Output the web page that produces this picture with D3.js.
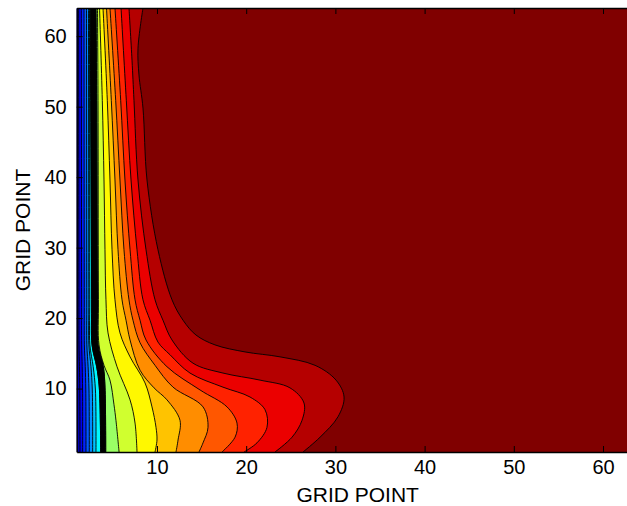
<!DOCTYPE html>
<html>
<head>
<meta charset="utf-8">
<script src="https://cdn.jsdelivr.net/npm/d3@7"></script>
<style>
  html, body { margin: 0; padding: 0; background: #fff; overflow: hidden; }
  svg { display: block; }
  text { font-family: "Liberation Sans", Arial, Helvetica, sans-serif; fill: #000; }
</style>
</head>
<body>
<svg id="chart" width="627" height="506"></svg>
<script>
// Grid extent (grid points along both axes) and tick values
const gridExtent = [1, 64];
const xTicks = [10, 20, 30, 40, 50, 60];
const yTicks = [10, 20, 30, 40, 50, 60];

// Contour levels; the band above level k is coloured by k on the jet scale
const levels = [1, 2, 3, 4, 5, 6, 7, 8, 9, 10, 11, 12, 13, 14, 15, 16, 17, 18, 19];

// Isoline traces as [grid x, grid y], running from the top row down to the bottom row
const iso02 = [[1.22, 64], [1.25, 22.6], [1.26, 16.2], [1.31, 13.1], [1.35, 9.8], [1.37, 1]];
const iso03 = [[1.52, 64], [1.55, 22.6], [1.56, 16.2], [1.62, 13.1], [1.66, 9.8], [1.67, 1]];
const iso04 = [[1.82, 64], [1.85, 22.6], [1.86, 16.2], [1.96, 13.1], [2.02, 9.8], [2.04, 1]];
const iso05 = [[2.10, 64], [2.13, 22.6], [2.14, 16.2], [2.28, 13.1], [2.38, 9.8], [2.41, 1]];
const iso06 = [[2.32, 64], [2.36, 22.6], [2.37, 16.2], [2.60, 13.1], [2.75, 9.8], [2.79, 1]];
const iso07 = [[2.43, 64], [2.47, 22.6], [2.48, 16.2], [2.85, 13.1], [3.10, 9.8], [3.16, 1]];
// Levels 8 to 10 sit so close together that their outlines merge into one black strip
const iso08 = [[2.51, 64], [2.57, 50.9], [2.68, 22.6], [2.72, 16.2], [3.24, 13.1], [3.53, 10.2], [3.69, 1]];
const iso10 = [[3.16, 64], [3.24, 50.9], [3.33, 22.6], [3.39, 16.2], [3.98, 13.1], [4.17, 10.2], [4.25, 1]];
const iso11 = [[3.33, 64], [3.39, 50.9], [3.44, 22.6], [3.50, 16.2], [4.06, 13.3], [4.73, 11.2], [5.18, 7.7], [5.40, 5.5], [5.75, 1]];
const iso12 = [[3.56, 64], [3.87, 50.9], [4.06, 39.6], [4.17, 29.7], [4.28, 22.6], [4.51, 17.9], [5.52, 13.1], [6.98, 8.4], [7.54, 5.1], [7.76, 1]];
const iso13 = [[3.95, 64], [4.43, 50.9], [4.73, 39.6], [4.96, 29.7], [5.29, 22.6], [5.85, 17.9], [6.98, 14.5], [8.66, 10.8], [9.44, 7.4], [9.89, 4.5], [10.0, 2.7], [9.78, 1]];
const iso14 = [[4.34, 64], [4.88, 50.9], [5.29, 39.6], [5.63, 29.7], [6.08, 22.6], [6.53, 19.7], [6.98, 16.9], [8.10, 12.6], [9.67, 10.1], [11.12, 8.4], [12.58, 5.5], [12.36, 2.7], [12.13, 1]];
const iso15 = [[4.73, 64], [5.37, 50.9], [5.85, 39.6], [6.30, 29.7], [6.86, 22.6], [7.31, 19.7], [8.10, 16.5], [9.78, 13.3], [11.80, 10.2], [15.16, 7.4], [15.72, 4.5], [15.16, 2.3], [14.71, 1]];
const iso16 = [[5.29, 64], [5.93, 50.9], [6.41, 39.6], [6.98, 29.7], [7.54, 22.6], [8.10, 19.7], [8.77, 16.9], [11.12, 13.1], [14.83, 9.8], [17.85, 7.4], [18.97, 5.1], [18.75, 3.1], [17.29, 1]];
const iso17 = [[5.97, 64], [6.56, 50.9], [7.09, 39.6], [7.76, 29.7], [8.43, 22.6], [9.22, 19.7], [10.11, 16.6], [11.46, 14.8], [13.70, 12.2], [17.40, 10.2], [20.43, 8.8], [22.11, 7.0], [22.33, 4.5], [21.21, 2.3], [19.76, 1]];
const iso18 = [[6.86, 64], [7.20, 56.6], [7.42, 50.9], [7.87, 39.6], [8.77, 29.7], [9.78, 22.6], [10.67, 19.7], [11.68, 16.9], [14.04, 13.6], [17.40, 12.2], [21.55, 11.2], [24.91, 10.1], [26.48, 7.95], [26.26, 5.5], [25.14, 3.1], [23.23, 1]];
const iso19 = [[8.43, 64], [7.87, 58.3], [7.98, 54.5], [8.43, 49.8], [8.88, 39.6], [10.11, 29.7], [11.68, 22.6], [12.92, 19.7], [14.37, 17.6], [16.50, 16.2], [19.87, 15.2], [23.79, 14.5], [27.72, 13.3], [30.07, 11.2], [30.97, 8.8], [30.29, 6.0], [28.28, 3.1], [26.37, 1]];

const isolines = [
  { level: levels[1], pts: iso02 }, { level: levels[2], pts: iso03 },
  { level: levels[3], pts: iso04 }, { level: levels[4], pts: iso05 },
  { level: levels[5], pts: iso06 }, { level: levels[6], pts: iso07 },
  { level: levels[7], pts: iso08 }, { level: levels[9], pts: iso10 },
  { level: levels[10], pts: iso11 }, { level: levels[11], pts: iso12 },
  { level: levels[12], pts: iso13 }, { level: levels[13], pts: iso14 },
  { level: levels[14], pts: iso15 }, { level: levels[15], pts: iso16 },
  { level: levels[16], pts: iso17 }, { level: levels[17], pts: iso18 },
  { level: levels[18], pts: iso19 }
];

// Jet colour map
const clamp01 = v => Math.max(0, Math.min(1, v));
function jet(t) {
  const r = clamp01(1.5 - Math.abs(4 * t - 3));
  const g = clamp01(1.5 - Math.abs(4 * t - 2));
  const b = clamp01(1.5 - Math.abs(4 * t - 1));
  return d3.rgb(r * 255, g * 255, b * 255).formatHex();
}
const colour = d3.scaleSequential(jet).domain([0, levels[levels.length - 1]]);

// Layout
const plot = { left: 76.7, right: 638.7, top: 8, bottom: 452 };
const svg = d3.select("#chart");
const x = d3.scaleLinear().domain(gridExtent).range([plot.left, plot.right]);
const y = d3.scaleLinear().domain(gridExtent).range([plot.bottom, plot.top]);

svg.append("defs").append("clipPath").attr("id", "plot-clip")
  .append("rect")
  .attr("x", plot.left).attr("y", plot.top)
  .attr("width", plot.right - plot.left).attr("height", plot.bottom - plot.top);

const field = svg.append("g").attr("clip-path", "url(#plot-clip)");

const edge = d3.line()
  .x(d => x(d[0]))
  .y(d => y(d[1]))
  .curve(d3.curveCatmullRom.alpha(0.5));

// Region lying to the right of an isoline, closed along the far edge of the grid
const pad = 3;
function rightOf(pts) {
  const xr = x(gridExtent[1]) + 20;
  const last = pts[pts.length - 1], first = pts[0];
  return edge(pts) +
    `L${x(last[0])},${y(gridExtent[0]) + pad}L${xr},${y(gridExtent[0]) + pad}` +
    `L${xr},${y(gridExtent[1]) - pad}L${x(first[0])},${y(gridExtent[1]) - pad}Z`;
}

// Lowest band fills the whole grid, higher bands are painted on top in order
field.append("rect")
  .attr("x", plot.left - pad).attr("y", plot.top - pad)
  .attr("width", plot.right - plot.left + 2 * pad).attr("height", plot.bottom - plot.top + 2 * pad)
  .attr("fill", colour(levels[0]));

field.selectAll("path.band")
  .data(isolines)
  .join("path")
  .attr("class", "band")
  .attr("d", d => rightOf(d.pts))
  .attr("fill", d => colour(d.level));

// Isoline outlines
field.selectAll("path.iso")
  .data(isolines)
  .join("path")
  .attr("class", "iso")
  .attr("d", d => edge(d.pts))
  .attr("fill", "none")
  .attr("stroke", "#000")
  .attr("stroke-width", 0.9);

// Crowded isolines between levels 8 and 10 merge into solid black
field.append("path")
  .attr("d", edge(iso08) + edge(iso10.slice().reverse()).replace(/^M/, "L") + "Z")
  .attr("fill", "#000")
  .attr("stroke", "#000")
  .attr("stroke-width", 0.9);

// Axes: ticks point inward on all four sides
function styleAxis(g) {
  g.attr("font-size", 20).attr("font-family", null);
  g.select(".domain").attr("stroke", "#000").attr("stroke-width", 1.4);
  g.selectAll(".tick line").attr("stroke", "#000").attr("stroke-width", 1);
  g.selectAll(".tick text").attr("fill", "#000");
}

svg.append("g")
  .attr("transform", `translate(0,${plot.bottom})`)
  .call(d3.axisBottom(x).tickValues(xTicks).tickSizeInner(-6).tickSizeOuter(0).tickPadding(8))
  .call(styleAxis);

svg.append("g")
  .attr("transform", `translate(0,${plot.top})`)
  .call(d3.axisTop(x).tickValues(xTicks).tickSizeInner(-6).tickSizeOuter(0).tickFormat(""))
  .call(styleAxis);

svg.append("g")
  .attr("transform", `translate(${plot.left},0)`)
  .call(d3.axisLeft(y).tickValues(yTicks).tickSizeInner(-6).tickSizeOuter(0).tickPadding(10))
  .call(styleAxis);

svg.append("g")
  .attr("transform", `translate(${plot.right},0)`)
  .call(d3.axisRight(y).tickValues(yTicks).tickSizeInner(-6).tickSizeOuter(0).tickFormat(""))
  .call(styleAxis);

// Axis titles
svg.append("text")
  .attr("x", (plot.left + plot.right) / 2)
  .attr("y", 502)
  .attr("text-anchor", "middle")
  .attr("font-size", 21)
  .text("GRID POINT");

svg.append("text")
  .attr("transform", `translate(30,${(plot.top + plot.bottom) / 2}) rotate(-90)`)
  .attr("text-anchor", "middle")
  .attr("font-size", 21)
  .text("GRID POINT");
</script>
</body>
</html>
